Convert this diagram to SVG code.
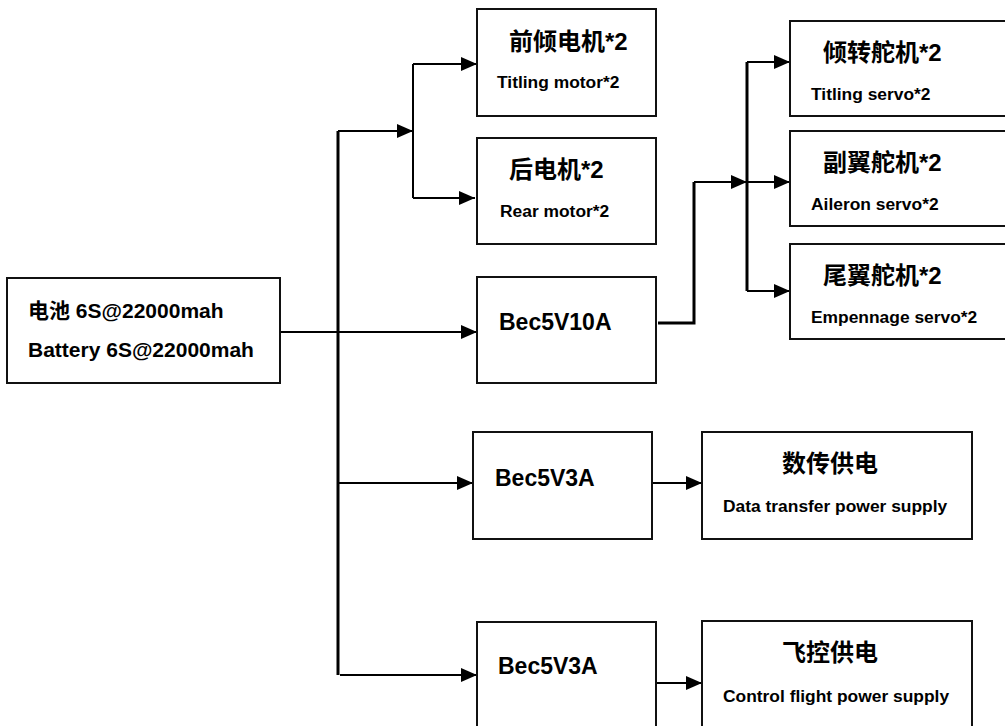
<svg xmlns="http://www.w3.org/2000/svg" width="1005" height="726" viewBox="0 0 1005 726">
<style>
.box{fill:#fff;stroke:#111;stroke-width:2}
.ln{fill:none;stroke:#000;stroke-width:2}
.thk{fill:none;stroke:#000;stroke-width:3}
text{font-family:"Liberation Sans","Noto Sans CJK SC",sans-serif;font-weight:700;fill:#000}
.h{font-size:24px}
.s{font-size:17.4px}
.b{font-size:23px}
.bat{font-size:21px}
</style>
<defs>
<marker id="ar" markerUnits="userSpaceOnUse" viewBox="0 0 16 14" refX="16" refY="7" markerWidth="16" markerHeight="14" orient="auto">
<path d="M0,0 L16,7 L0,14 z" fill="#000"/>
</marker>
</defs>
<rect width="1005" height="726" fill="#fff"/>
<g id="connectors">
<path class="thk" d="M338,131 V675"/>
<path class="ln" d="M338,131 H413" marker-end="url(#ar)"/>
<path class="ln" d="M413,64 V198"/>
<path class="ln" d="M413,64 H477" marker-end="url(#ar)"/>
<path class="ln" d="M413,198 H475" marker-end="url(#ar)"/>
<path class="ln" d="M280,332 H477" marker-end="url(#ar)"/>
<path class="ln" d="M338,483 H473" marker-end="url(#ar)"/>
<path class="ln" d="M340,675 H477" marker-end="url(#ar)"/>
<path class="thk" d="M658,323 H694 V182"/>
<path class="ln" d="M694,182 H747" marker-end="url(#ar)"/>
<path class="thk" d="M747,62 V291"/>
<path class="ln" d="M747,62 H790" marker-end="url(#ar)"/>
<path class="ln" d="M747,182 H790" marker-end="url(#ar)"/>
<path class="ln" d="M747,291 H790" marker-end="url(#ar)"/>
<path class="ln" d="M652,483 H702" marker-end="url(#ar)"/>
<path class="ln" d="M656,683 H702" marker-end="url(#ar)"/>
</g>
<g id="battery">
<rect class="box" x="7" y="278" width="273" height="105"/>
<text class="bat" x="28" y="318">电池 6S@22000mah</text>
<text class="bat" x="28" y="357">Battery 6S@22000mah</text>
</g>
<g id="tilting-motor">
<rect class="box" x="477" y="9" width="179" height="107"/>
<text class="h" x="509" y="50">前倾电机*2</text>
<text class="s" x="497" y="88">Titling motor*2</text>
</g>
<g id="rear-motor">
<rect class="box" x="477" y="138" width="179" height="106"/>
<text class="h" x="509" y="178">后电机*2</text>
<text class="s" x="500" y="217">Rear motor*2</text>
</g>
<g id="bec5v10a">
<rect class="box" x="477" y="277" width="179" height="106"/>
<text class="b" x="499" y="330">Bec5V10A</text>
</g>
<g id="tilting-servo">
<rect class="box" x="790" y="21" width="222" height="95"/>
<text class="h" x="823" y="61">倾转舵机*2</text>
<text class="s" x="811" y="100">Titling servo*2</text>
</g>
<g id="aileron-servo">
<rect class="box" x="790" y="131" width="222" height="95"/>
<text class="h" x="823" y="171">副翼舵机*2</text>
<text class="s" x="811" y="210">Aileron servo*2</text>
</g>
<g id="empennage-servo">
<rect class="box" x="790" y="244" width="222" height="95"/>
<text class="h" x="823" y="284">尾翼舵机*2</text>
<text class="s" x="811" y="323">Empennage servo*2</text>
</g>
<g id="bec5v3a-1">
<rect class="box" x="473" y="432" width="179" height="107"/>
<text class="b" x="495" y="486">Bec5V3A</text>
</g>
<g id="data-power">
<rect class="box" x="702" y="432" width="270" height="107"/>
<text class="h" x="782" y="472">数传供电</text>
<text class="s" x="723" y="512">Data transfer power supply</text>
</g>
<g id="bec5v3a-2">
<rect class="box" x="477" y="622" width="179" height="120"/>
<text class="b" x="498" y="674">Bec5V3A</text>
</g>
<g id="flight-power">
<rect class="box" x="702" y="621" width="270" height="120"/>
<text class="h" x="782" y="661">飞控供电</text>
<text class="s" x="723" y="702">Control flight power supply</text>
</g>
</svg>
